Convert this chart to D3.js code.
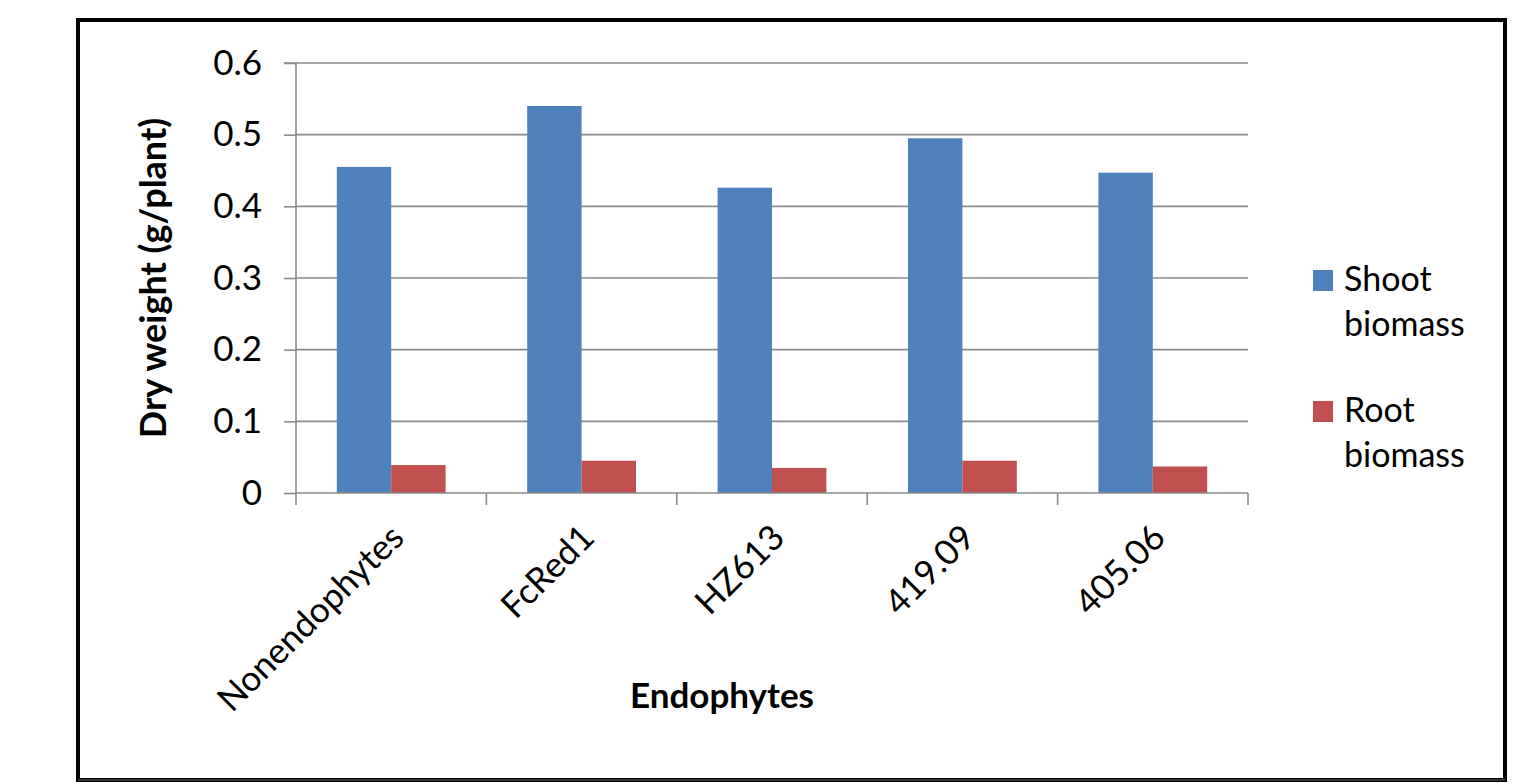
<!DOCTYPE html>
<html>
<head>
<meta charset="utf-8">
<script src="https://cdn.jsdelivr.net/npm/d3@7"></script>
<style>
  html, body { margin: 0; padding: 0; background: #fff; }
  svg { display: block; }
  text { font-family: Lato, "Open Sans", sans-serif; fill: #000; }
</style>
</head>
<body>
<svg id="chart" width="1532" height="783"></svg>
<script>
const categories = ["Nonendophytes", "FcRed1", "HZ613", "419.09", "405.06"];
const seriesNames = ["Shoot biomass", "Root biomass"];
const shootValues = [0.455, 0.540, 0.426, 0.495, 0.447];
const rootValues = [0.039, 0.045, 0.035, 0.045, 0.037];
const yTicks = [0, 0.1, 0.2, 0.3, 0.4, 0.5, 0.6];
const colors = ["#4F81BD", "#C0504D"];

const svg = d3.select("#chart");

// outer frame
svg.append("rect").attr("x", 78).attr("y", 20).attr("width", 1427).attr("height", 760)
  .attr("fill", "none").attr("stroke", "#000").attr("stroke-width", 4);
svg.append("line").attr("x1", 78).attr("x2", 1505).attr("y1", 780).attr("y2", 780)
  .attr("stroke", "#333").attr("stroke-width", 2);

const plot = { left: 296, right: 1248, top: 63, bottom: 493 };

const x0 = d3.scaleBand().domain(categories).range([plot.left, plot.right]).paddingInner(0).paddingOuter(0);
const x1 = d3.scaleBand().domain(seriesNames).range([0, x0.bandwidth()]).paddingInner(0).paddingOuter(0.75);
const y = d3.scaleLinear().domain([0, 0.6]).range([plot.bottom, plot.top]);

// gridlines
svg.append("g").selectAll("line").data(yTicks.filter(d => d > 0)).join("line")
  .attr("x1", plot.left).attr("x2", plot.right)
  .attr("y1", d => y(d)).attr("y2", d => y(d))
  .attr("stroke", "#8a8a8a").attr("stroke-width", 1.6);

// bars
const data = categories.map((c, i) => ({ cat: c, vals: [shootValues[i], rootValues[i]] }));
const groups = svg.append("g").selectAll("g").data(data).join("g")
  .attr("transform", d => `translate(${x0(d.cat)},0)`);
groups.selectAll("rect").data(d => d.vals.map((v, j) => ({ v, s: seriesNames[j], j }))).join("rect")
  .attr("x", d => x1(d.s)).attr("width", x1.bandwidth())
  .attr("y", d => y(d.v)).attr("height", d => y(0) - y(d.v))
  .attr("fill", d => colors[d.j]);

// y axis
const yAxis = d3.axisLeft(y).tickValues(yTicks).tickSize(12).tickPadding(22)
  .tickFormat(d => d === 0 ? "0" : d3.format(".1f")(d));
const yg = svg.append("g").attr("transform", `translate(${plot.left},0)`).call(yAxis);
yg.select(".domain").attr("stroke", "#8a8a8a").attr("stroke-width", 1.6).attr("d", `M-12,${plot.top}H0V${plot.bottom}`);
yg.selectAll(".tick line").attr("stroke", "#8a8a8a").attr("stroke-width", 1.6);
yg.selectAll(".tick text").attr("font-size", 35).attr("font-family", "Lato, sans-serif").attr("fill", "#000");

// x axis
const xAxis = d3.axisBottom(x0).tickSize(0).tickFormat("");
const xg = svg.append("g").attr("transform", `translate(0,${plot.bottom})`).call(xAxis);
xg.select(".domain").attr("stroke", "#8a8a8a").attr("stroke-width", 1.6)
  .attr("d", `M${plot.left},0H${plot.right}`);
const boundaries = categories.map(c => x0(c)).concat([plot.right]);
xg.selectAll(".bnd").data(boundaries).join("line").attr("class", "bnd")
  .attr("x1", d => d).attr("x2", d => d).attr("y1", 0).attr("y2", 12)
  .attr("stroke", "#8a8a8a").attr("stroke-width", 1.6);
xg.selectAll(".lbl").data(categories).join("text").attr("class", "lbl")
  .attr("transform", d => `translate(${x0(d) + x0.bandwidth() / 2 + 6},${38}) rotate(-45)`)
  .attr("text-anchor", "end").attr("dy", "0.35em")
  .attr("font-size", 35).text(d => d);

// axis titles
svg.append("text").attr("transform", `translate(166,${(plot.top + plot.bottom) / 2}) rotate(-90)`)
  .attr("text-anchor", "middle").attr("font-weight", "bold").attr("font-size", 36)
  .text("Dry weight (g/plant)");
svg.append("text").attr("x", 722).attr("y", 708)
  .attr("text-anchor", "middle").attr("font-weight", "bold").attr("font-size", 35)
  .text("Endophytes");

// legend
const legendItems = seriesNames.map((n, i) => ({ name: n, color: colors[i], top: [270, 401][i] }));
const lg = svg.append("g").selectAll("g").data(legendItems).join("g");
lg.append("rect").attr("x", 1313).attr("y", d => d.top).attr("width", 20).attr("height", 21)
  .attr("fill", d => d.color);
lg.append("text").attr("x", 1344).attr("y", d => d.top + 21).attr("font-size", 34)
  .selectAll("tspan").data(d => d.name.split(" ")).join("tspan")
  .attr("x", 1344).attr("dy", (d, i) => i === 0 ? 0 : 45).text(d => d);
</script>
</body>
</html>
